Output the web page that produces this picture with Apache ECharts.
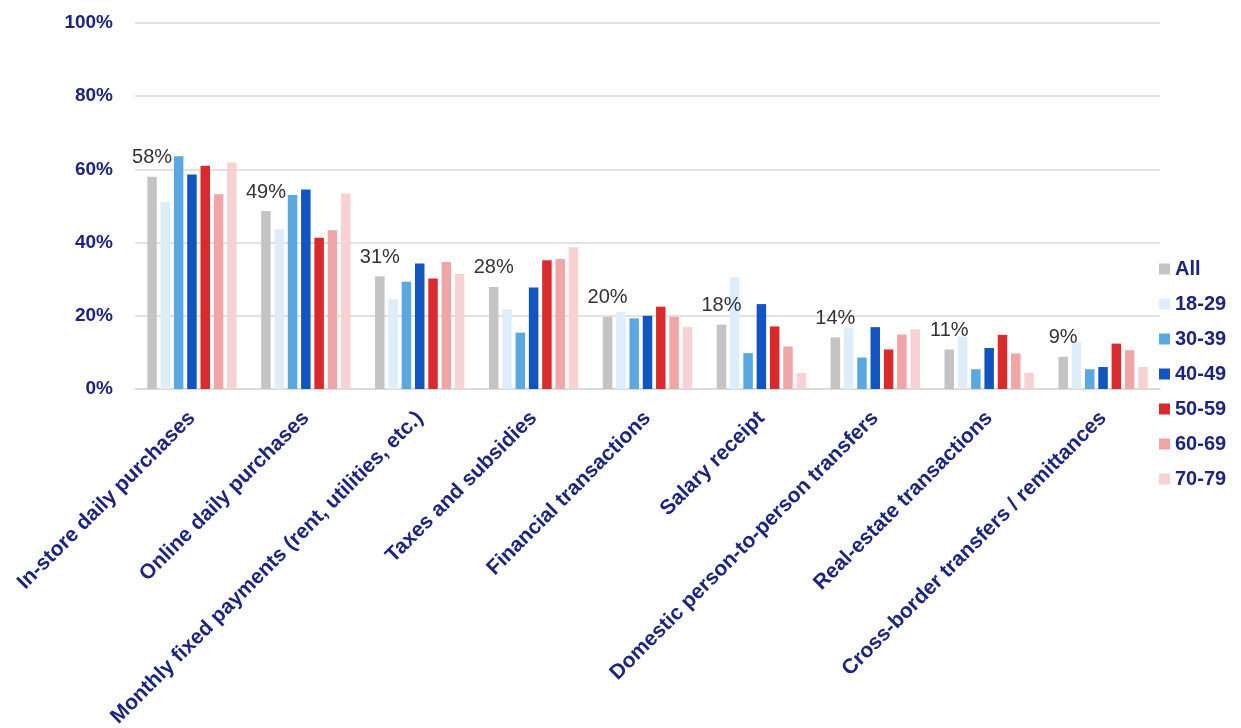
<!DOCTYPE html>
<html>
<head>
<meta charset="utf-8">
<style>
  html, body { margin: 0; padding: 0; background: #fff; }
  #chart { width: 1241px; height: 728px; }
</style>
<script src="https://cdn.jsdelivr.net/npm/echarts@6/dist/echarts.min.js"></script>
</head>
<body>
<div id="chart"></div>
<script>
// categories on the x axis
const categories = [
  'In-store daily purchases',
  'Online daily purchases',
  'Monthly fixed payments (rent, utilities, etc.)',
  'Taxes and subsidies',
  'Financial transactions',
  'Salary receipt',
  'Domestic person-to-person transfers',
  'Real-estate transactions',
  'Cross-border transfers / remittances'
];

const yTicks = [0, 20, 40, 60, 80, 100];

// share of respondents (%) per age group
const all     = [58.0, 48.6, 30.8, 27.9, 19.7, 17.6, 14.1, 10.8, 8.8];
const age1829 = [51.1, 43.7, 24.5, 21.8, 21.0, 30.6, 16.6, 14.3, 12.9];
const age3039 = [63.6, 53.0, 29.3, 15.4, 19.3,  9.8,  8.6,  5.4,  5.4];
const age4049 = [58.6, 54.5, 34.3, 27.7, 20.0, 23.2, 16.9, 11.2,  6.0];
const age5059 = [61.0, 41.3, 30.2, 35.2, 22.5, 17.1, 10.8, 14.8, 12.4];
const age6069 = [53.2, 43.4, 34.7, 35.5, 19.7, 11.6, 14.9,  9.7, 10.6];
const age7079 = [61.9, 53.4, 31.4, 38.7, 17.0,  4.4, 16.3,  4.4,  6.0];

const seriesNames = ['All', '18-29', '30-39', '40-49', '50-59', '60-69', '70-79'];
const seriesData = [all, age1829, age3039, age4049, age5059, age6069, age7079];
const colors = ['#c4c4c4', '#ddedf9', '#5ba8e0', '#1254c0', '#d92b2e', '#f0a5a7', '#f8d2d3'];

const navy = '#1c2480';
const font = 'Liberation Sans, Arial, sans-serif';

const chart = echarts.init(document.getElementById('chart'));

const series = seriesNames.map(function (name, i) {
  const s = {
    name: name,
    type: 'bar',
    data: seriesData[i],
    barWidth: 9.5,
    barGap: '40%',
    itemStyle: { color: colors[i] }
  };
  // only the "All" bars carry a value label
  if (i === 0) {
    s.label = {
      show: true,
      position: 'top',
      distance: 9,
      color: '#333',
      fontFamily: font,
      fontSize: 20,
      formatter: function (p) { return Math.round(p.value) + '%'; }
    };
  }
  return s;
});

chart.setOption({
  backgroundColor: '#fff',
  animation: false,
  color: colors,
  grid: { left: 135, right: 81, top: 23, bottom: 339, containLabel: false, outerBoundsMode: 'none' },
  legend: {
    orient: 'vertical',
    left: 1154,
    top: 254,
    itemWidth: 11,
    itemHeight: 11,
    itemGap: 15,
    icon: 'rect',
    textStyle: { color: navy, fontWeight: 'bold', fontSize: 20, fontFamily: font },
    data: seriesNames
  },
  xAxis: {
    type: 'category',
    data: categories,
    axisLine: { lineStyle: { color: '#d9d9d9', width: 1.5 } },
    axisTick: { show: false },
    axisLabel: {
      interval: 0,
      rotate: 45,
      margin: 26,
      color: navy,
      fontWeight: 'bold',
      fontSize: 21,
      fontFamily: font
    }
  },
  yAxis: {
    type: 'value',
    min: yTicks[0],
    max: yTicks[yTicks.length - 1],
    interval: 20,
    axisLine: { show: false },
    axisTick: { show: false },
    splitLine: { lineStyle: { color: '#d9d9d9', width: 1.5 } },
    axisLabel: {
      margin: 22,
      color: navy,
      fontWeight: 'bold',
      fontSize: 19,
      fontFamily: font,
      formatter: '{value}%'
    }
  },
  series: series
});
</script>
</body>
</html>
